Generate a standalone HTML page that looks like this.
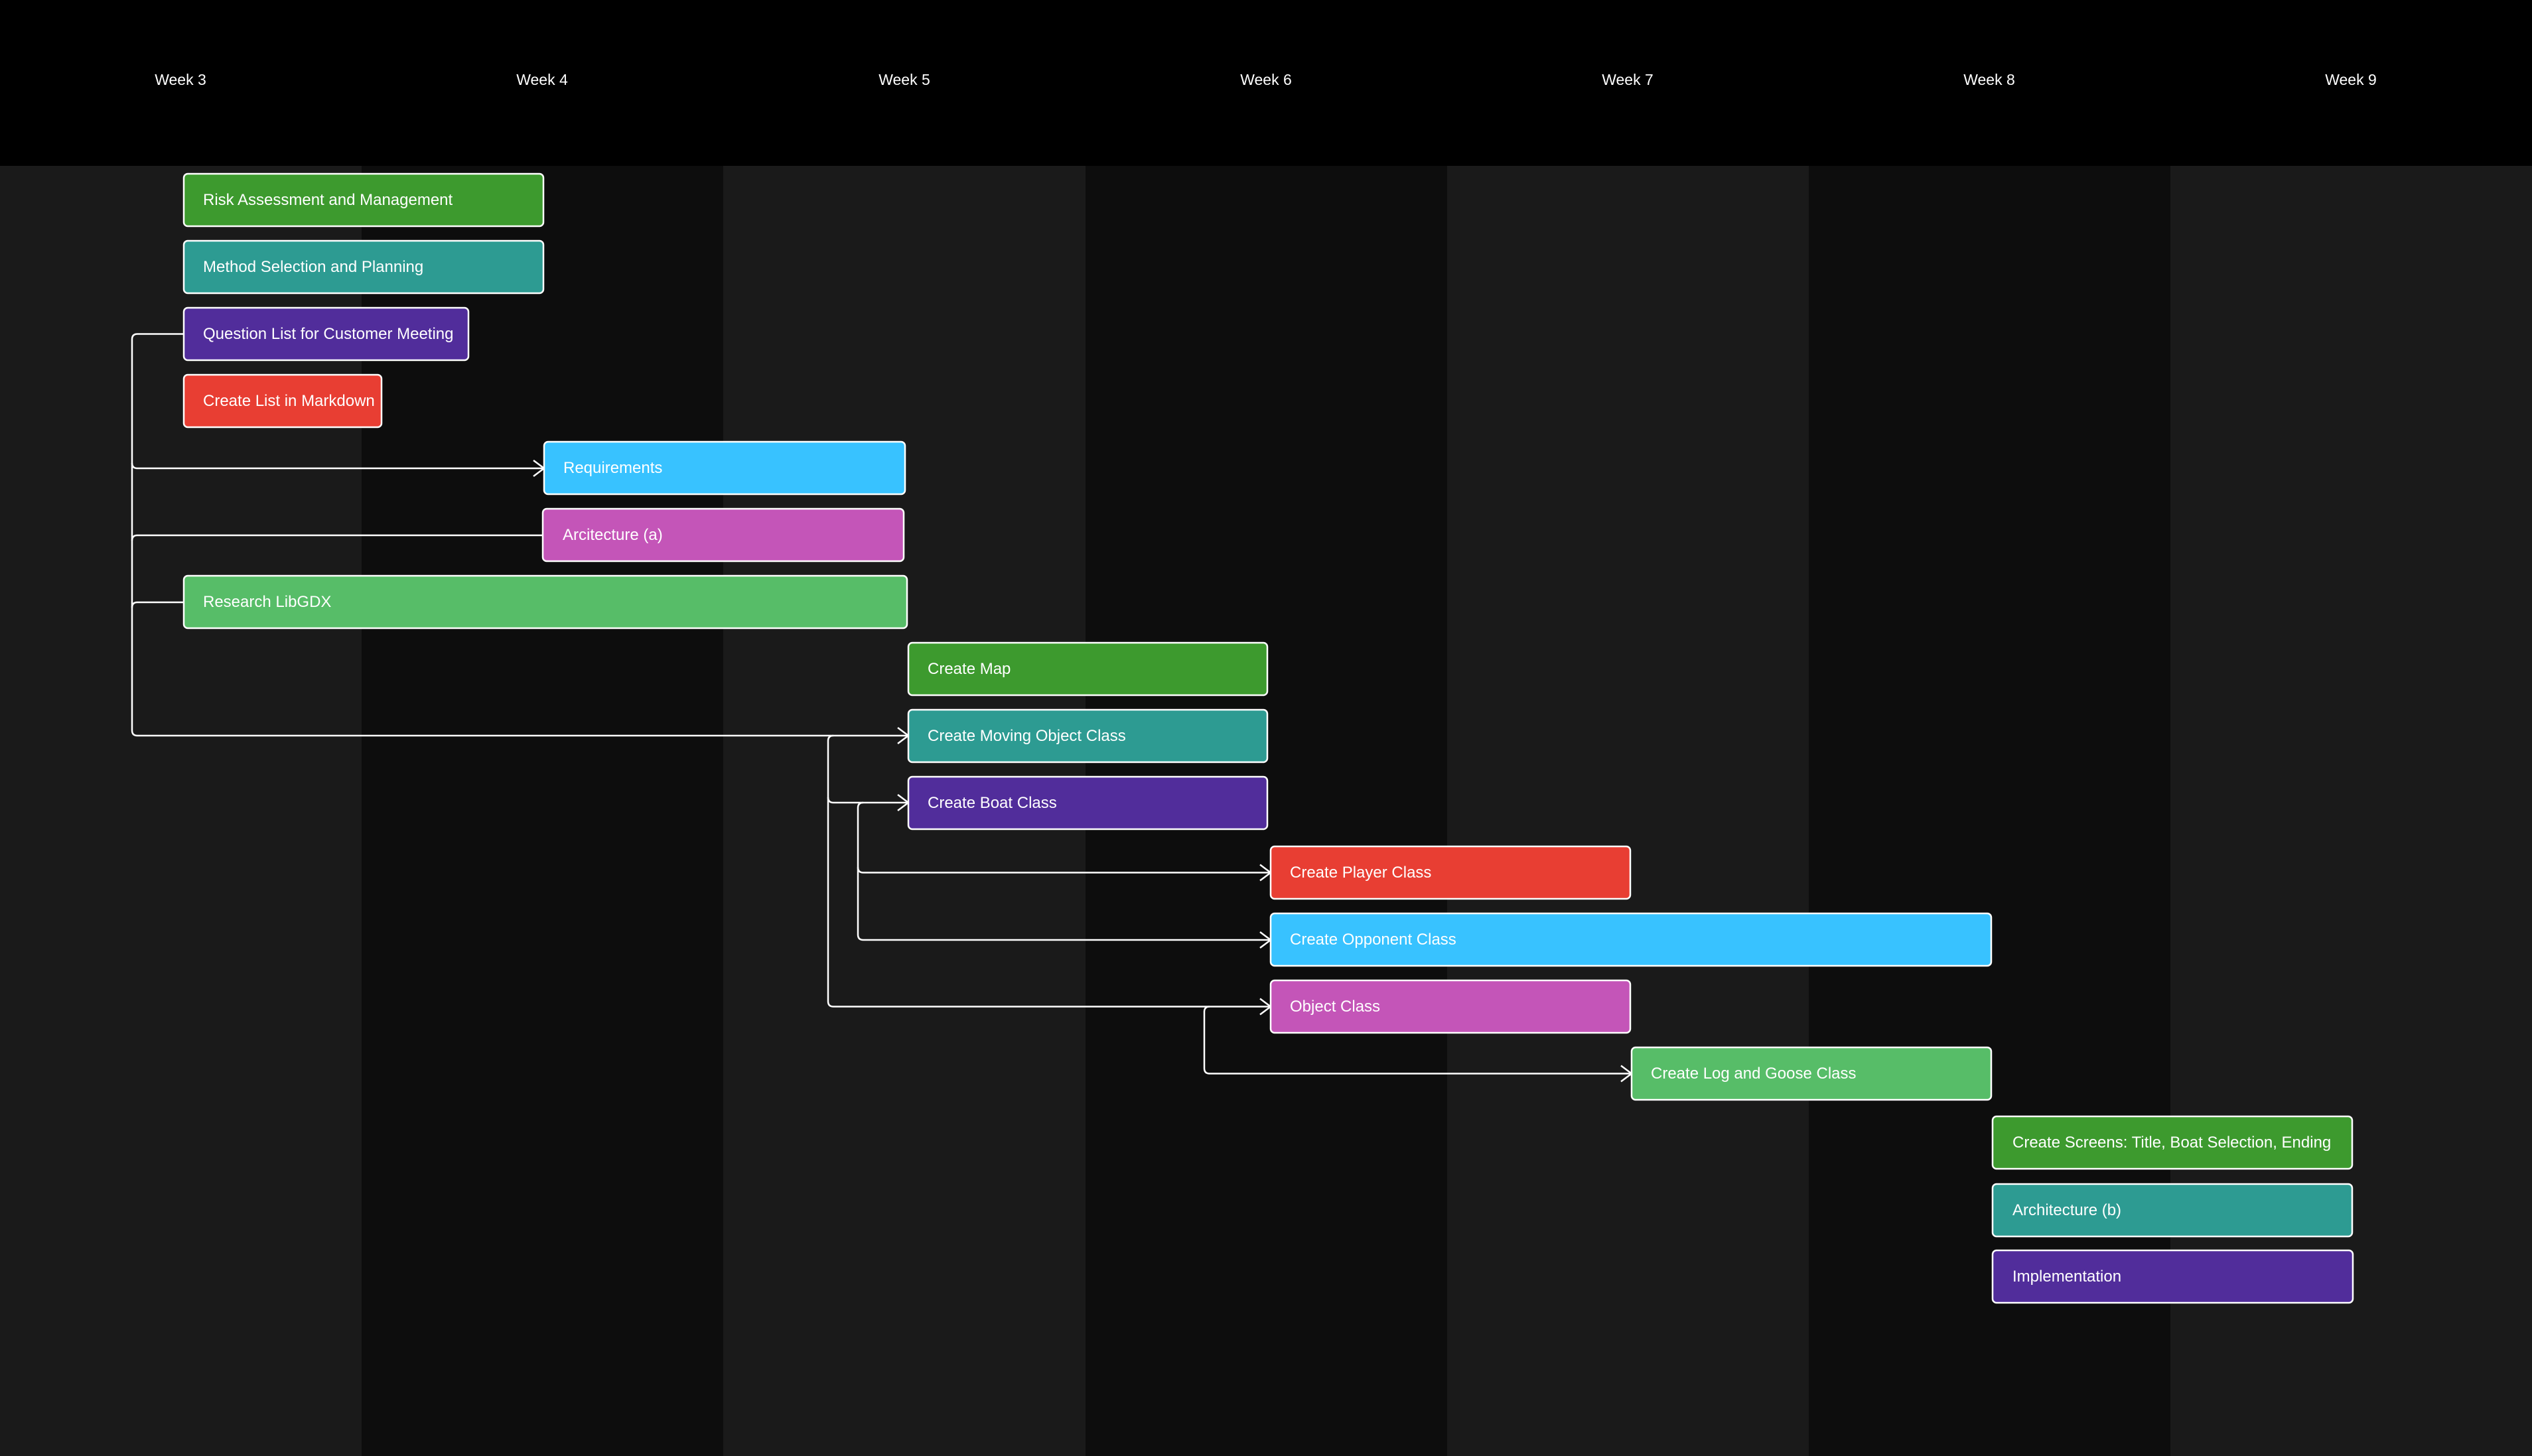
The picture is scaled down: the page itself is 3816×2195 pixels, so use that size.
<!DOCTYPE html>
<html><head><meta charset="utf-8"><style>
html,body{margin:0;padding:0;background:#000;}
svg{display:block;}
text{font-family:"Liberation Sans",sans-serif;fill:#fff;}
</style></head><body>
<svg width="3816" height="2195" viewBox="0 0 3816 2195" xmlns="http://www.w3.org/2000/svg">
<rect x="0" y="0" width="3816" height="2195" fill="#000"/>
<rect x="0" y="250" width="545" height="1945" fill="#1a1a1a"/>
<rect x="545" y="250" width="545" height="1945" fill="#0d0d0d"/>
<rect x="1090" y="250" width="546" height="1945" fill="#1a1a1a"/>
<rect x="1636" y="250" width="545" height="1945" fill="#0d0d0d"/>
<rect x="2181" y="250" width="545" height="1945" fill="#1a1a1a"/>
<rect x="2726" y="250" width="545" height="1945" fill="#0d0d0d"/>
<rect x="3271" y="250" width="545" height="1945" fill="#1a1a1a"/>
<g font-size="23" text-anchor="middle" dominant-baseline="central">
<text x="272" y="120">Week 3</text>
<text x="817" y="120">Week 4</text>
<text x="1363" y="120">Week 5</text>
<text x="1908" y="120">Week 6</text>
<text x="2453" y="120">Week 7</text>
<text x="2998" y="120">Week 8</text>
<text x="3543" y="120">Week 9</text>
</g>
<g fill="none" stroke="#fff" stroke-width="2.5" stroke-linejoin="round">
<path d="M277 503.5 H207 Q199 503.5 199 511.5 V1101 Q199 1109 207 1109 H1369"/>
<path d="M199 698 Q199 706 207 706 H820"/>
<path d="M199 815 Q199 807 207 807 H918"/>
<path d="M199 916 Q199 908 207 908 H277"/>
<path d="M1256 1109 Q1248 1109 1248 1117 V1509.5 Q1248 1517.5 1256 1517.5 H1915"/>
<path d="M1248 1202 Q1248 1210 1256 1210 H1369"/>
<path d="M1301 1210 Q1293 1210 1293 1218 V1409 Q1293 1417 1301 1417 H1915"/>
<path d="M1293 1307.5 Q1293 1315.5 1301 1315.5 H1915"/>
<path d="M1823 1517.5 Q1815 1517.5 1815 1525.5 V1610.5 Q1815 1618.5 1823 1618.5 H2459"/>
<path d="M804 694 L820 706 L804 718"/>
<path d="M1353 1097 L1369 1109 L1353 1121"/>
<path d="M1353 1198 L1369 1210 L1353 1222"/>
<path d="M1899 1303.5 L1915 1315.5 L1899 1327.5"/>
<path d="M1899 1405 L1915 1417 L1899 1429"/>
<path d="M1899 1505.5 L1915 1517.5 L1899 1529.5"/>
<path d="M2443 1606.5 L2459 1618.5 L2443 1630.5"/>
</g>
<g stroke="#fff" stroke-width="2.5">
<rect x="277" y="262" width="542" height="79" rx="6" fill="#3d9a2e"/>
<rect x="277" y="363" width="542" height="79" rx="6" fill="#2d9b92"/>
<rect x="277" y="464" width="429" height="79" rx="6" fill="#512d9b"/>
<rect x="277" y="565" width="298" height="79" rx="6" fill="#e83e33"/>
<rect x="820" y="666" width="544" height="79" rx="6" fill="#38c2ff"/>
<rect x="818" y="767" width="544" height="79" rx="6" fill="#c455b8"/>
<rect x="277" y="868" width="1090" height="79" rx="6" fill="#57bd68"/>
<rect x="1369" y="969" width="541" height="79" rx="6" fill="#3d9a2e"/>
<rect x="1369" y="1070" width="541" height="79" rx="6" fill="#2d9b92"/>
<rect x="1369" y="1171" width="541" height="79" rx="6" fill="#512d9b"/>
<rect x="1915" y="1276" width="542" height="79" rx="6" fill="#e83e33"/>
<rect x="1915" y="1377" width="1086" height="79" rx="6" fill="#38c2ff"/>
<rect x="1915" y="1478" width="542" height="79" rx="6" fill="#c455b8"/>
<rect x="2459" y="1579" width="542" height="79" rx="6" fill="#57bd68"/>
<rect x="3003" y="1683" width="542" height="79" rx="6" fill="#3d9a2e"/>
<rect x="3003" y="1785" width="542" height="79" rx="6" fill="#2d9b92"/>
<rect x="3003" y="1885" width="543" height="79" rx="6" fill="#512d9b"/>
</g>
<g font-size="24" dominant-baseline="central">
<text x="306" y="301.5">Risk Assessment and Management</text>
<text x="306" y="402.5">Method Selection and Planning</text>
<text x="306" y="503.5">Question List for Customer Meeting</text>
<text x="306" y="604.5">Create List in Markdown</text>
<text x="849" y="705.5">Requirements</text>
<text x="848" y="806.5">Arcitecture (a)</text>
<text x="306" y="907.5">Research LibGDX</text>
<text x="1398" y="1008.5">Create Map</text>
<text x="1398" y="1109.5">Create Moving Object Class</text>
<text x="1398" y="1210.5">Create Boat Class</text>
<text x="1944" y="1315.5">Create Player Class</text>
<text x="1944" y="1416.5">Create Opponent Class</text>
<text x="1944" y="1517.5">Object Class</text>
<text x="2488" y="1618.5">Create Log and Goose Class</text>
<text x="3033" y="1722.5">Create Screens: Title, Boat Selection, Ending</text>
<text x="3033" y="1824.5">Architecture (b)</text>
<text x="3033" y="1924.5">Implementation</text>
</g>
</svg>
</body></html>
